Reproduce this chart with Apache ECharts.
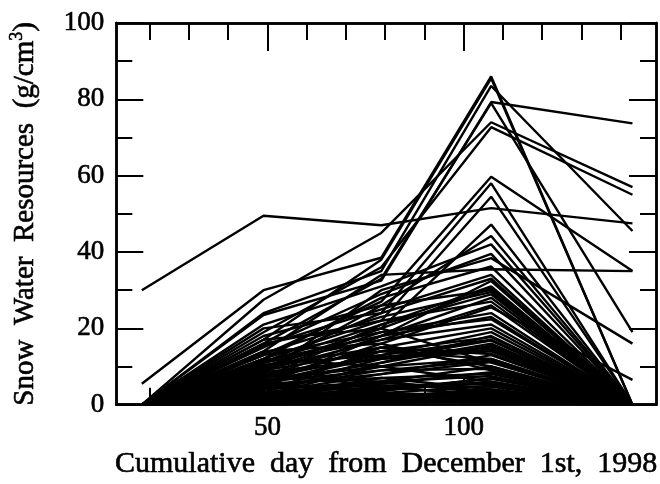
<!DOCTYPE html>
<html>
<head>
<meta charset="utf-8">
<script src="https://cdn.jsdelivr.net/npm/echarts@6/dist/echarts.min.js"></script>
<style>
html,body{margin:0;padding:0;background:#fff;}
#c{width:660px;height:484px;}
</style>
</head>
<body>
<div id="c"></div>
<script>
// Observation days (cumulative day from December 1st, 1998)
const days = [18, 49, 79, 107, 143];
// Values for each station at each observation day (one entry per station)
const v18  = [30, 5.5, 0, 0, 0, 0, 0, 0, 0, 0, 0, 0, 0, 0, 0, 0, 0, 0, 0, 0, 0, 0, 0, 0, 0, 0, 0, 0, 0, 0, 0, 0, 0, 0, 0, 0, 0, 0, 0, 0, 0, 0, 0, 0, 0, 0, 0, 0, 0, 0, 0, 0, 0, 0, 0, 0, 0, 0, 0, 0, 0,
              0, 0, 0, 0, 0, 0, 0, 0, 0, 0, 0, 0, 0, 0, 0, 0, 0, 0, 0, 0, 0, 0, 0, 0, 0];
const v49  = [49.5, 30, 27.5, 24, 23.5, 19, 17, 16, 13, 11, 14, 12, 10, 9, 15, 8, 12, 7, 11, 6, 9, 5, 8, 4, 10, 3, 6, 2, 5, 1, 3, 2, 0.5, 18, 20, 16, 13, 11, 7, 6, 4, 9, 7, 5, 3, 2, 1.5, 4, 1, 0, 6, 8, 12, 14, 17, 9, 7, 5, 3, 2, 21,
              1, 2.5, 0.5, 3.5, 1, 4.5, 2, 5.5, 3, 6.5, 8.5, 10.5, 1.5, 0.8, 2.2, 7.5, 4, 6, 11.5, 13.5, 15.5, 9.5, 0.3, 1.8, 3.2];
const v79  = [47, 38.5, 45, 35, 32.5, 36, 38, 33, 27, 24, 34, 22, 20, 26, 29, 30, 28, 18, 21, 16, 19, 14, 12, 10, 15, 8, 9, 7, 4, 5, 2, 1, 0.5, 26, 24, 22, 19, 17, 13, 11, 12, 14, 15, 8, 6, 4, 3, 6, 2, 1, 3, 5, 10, 16, 20, 17, 21, 18, 15, 11, 31,
              1.5, 2, 2.5, 3, 0.5, 5, 3.5, 7, 5.5, 10, 12, 13, 6, 4, 1.2, 6, 9, 12.5, 18, 23, 25, 20, 1.5, 2.8, 4.5];
const v107 = [51.5, 86, 74, 83.5, 79.3, 72.7, 85.5, 79, 59.7, 58, 35.5, 54.5, 47.2, 44.2, 39.5, 38.4, 36.2, 32.4, 28.9, 25.5, 22.4, 17.7, 16.8, 15.5, 13.3, 11.2, 9.4, 8.1, 6.8, 4.7, 3.8, 2.5, 1.2, 30, 33, 27, 24, 21, 19, 18, 14, 12, 10, 13, 7.5, 6, 5, 3, 2, 1.5, 1, 2, 6, 9, 11, 26, 31, 28, 20, 16, 42,
              3, 4, 1.8, 2.5, 0.8, 5.5, 7, 4, 8.5, 12, 14.5, 17, 10, 5.8, 0.5, 3.5, 11.5, 15, 23, 29.5, 34, 30.5, 3.3, 1.3, 2.8];
const v143 = [47.5, 0, 57, 45.5, 73.7, 55, 0, 19, 35, 0, 35, 0, 0, 0, 0, 16, 0, 0, 0, 6.5, 0, 0, 0, 0, 0, 0, 0, 0, 0, 0, 0, 0, 0, 0, 0, 0, 0, 0, 0, 0, 0, 0, 0, 0, 0, 0, 0, 0, 0, 0, 0, 0, 0, 0, 0, 0, 0, 0, 0, 0, 0,
              0, 0, 0, 0, 0, 0, 0, 0, 0, 0, 0, 0, 0, 0, 0, 0, 0, 0, 0, 0, 0, 0, 0, 0, 0];
// Axis tick values
const xLabelTicks = [50, 100];
const xMinorTicks = [20, 30, 40, 60, 70, 80, 90, 110, 120, 130, 140];
const yLabelTicks = [0, 20, 40, 60, 80, 100];
const yMinorTicks = [10, 30, 50, 70, 90];

const cols = [v18, v49, v79, v107, v143];
const series = v18.map((_, i) => ({
  type: 'line',
  xAxisIndex: 0,
  yAxisIndex: 0,
  symbol: 'none',
  silent: true,
  lineStyle: { color: '#000', width: 2.4 },
  data: days.map((d, j) => [d, cols[j][i]])
}));

const FONT = 'Liberation Serif, Times New Roman, serif';
const thick = { textBorderColor: '#000', textBorderWidth: 0.6 };
const lab = Object.assign({ color: '#000', fontFamily: FONT, fontSize: 27 }, thick);
const tl = { color: '#000', width: 2 };

function xa(pos, ticks, len, labels, extra) {
  return Object.assign({
    type: 'value', min: 11.5, max: 149, position: pos,
    axisLine: { show: true, onZero: false, lineStyle: { color: '#000', width: 2.5 } },
    axisTick: { show: true, inside: true, length: len, customValues: ticks, lineStyle: tl },
    axisLabel: labels ? Object.assign({ customValues: labels, margin: 10 }, lab) : { show: false },
    splitLine: { show: false }
  }, extra || {});
}
function ya(pos, ticks, len, labels, extra) {
  return Object.assign({
    type: 'value', min: 0, max: 100, position: pos,
    axisLine: { show: true, onZero: false, lineStyle: { color: '#000', width: 2.5 } },
    axisTick: { show: true, inside: true, length: len, customValues: ticks, lineStyle: tl },
    axisLabel: labels ? Object.assign({ customValues: labels, margin: 12 }, lab) : { show: false },
    splitLine: { show: false }
  }, extra || {});
}

const chart = echarts.init(document.getElementById('c'), null, { renderer: 'canvas' });
chart.setOption({
  animation: false,
  backgroundColor: '#fff',
  grid: { left: 115, right: 3, top: 23, bottom: 76 },
  xAxis: [
    xa('bottom', xMinorTicks, 17, xLabelTicks, {
      name: 'Cumulative  day  from  December  1st,  1998',
      nameLocation: 'middle', nameGap: 44,
      nameTextStyle: Object.assign({ color: '#000', fontFamily: FONT, fontSize: 30 }, thick)
    }),
    xa('bottom', xLabelTicks, 28, null),
    xa('top', xMinorTicks, 17, null),
    xa('top', xLabelTicks, 28, null)
  ],
  yAxis: [
    ya('left', yMinorTicks, 16, yLabelTicks, {
      name: '{n|Snow  Water  Resources  (g/cm}{s|3}{n|)}',
      nameLocation: 'middle', nameGap: 74, nameRotate: 90,
      nameTextStyle: { rich: {
        n: Object.assign({ color: '#000', fontFamily: FONT, fontSize: 29 }, thick),
        s: Object.assign({ color: '#000', fontFamily: FONT, fontSize: 18, verticalAlign: 'top', padding: [0, 0, 16, 0] }, thick)
      } }
    }),
    ya('left', yLabelTicks, 27, null),
    ya('right', yMinorTicks, 16, null),
    ya('right', yLabelTicks, 27, null)
  ],
  series: series
});
</script>
</body>
</html>
